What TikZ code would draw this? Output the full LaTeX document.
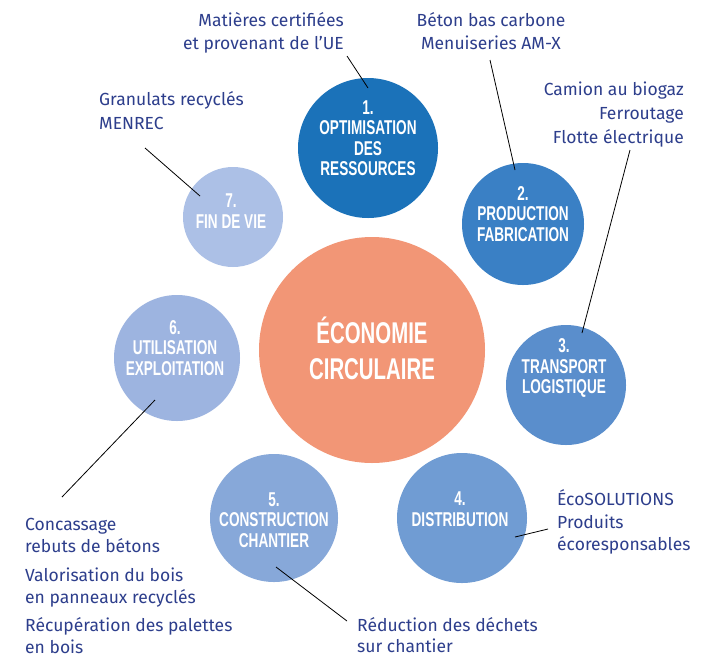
\documentclass[tikz,border=0pt]{standalone}
\usepackage{fontspec}
\setmainfont{Fira Sans}
\newfontfamily\condfont[FakeStretch=0.68]{Liberation Sans}
\definecolor{cone}{RGB}{27,114,185}
\definecolor{ctwo}{RGB}{58,128,197}
\definecolor{cthree}{RGB}{90,142,204}
\definecolor{cfour}{RGB}{112,156,211}
\definecolor{cfive}{RGB}{135,168,217}
\definecolor{csix}{RGB}{157,180,224}
\definecolor{cseven}{RGB}{172,192,230}
\definecolor{corange}{RGB}{242,150,118}
\definecolor{labcol}{RGB}{45,62,140}
\begin{document}
\begin{tikzpicture}[x=1pt,y=-1pt,
  disc/.style={circle,inner sep=0pt,draw=none},
  disctext/.style={text=white,align=center,font=\condfont\bfseries\fontsize{20}{20.5}\selectfont,inner sep=0pt},
  lab/.style={text=labcol,inner sep=0pt,font=\fontsize{17.5}{20}\selectfont},
  conn/.style={draw=black,line width=0.8pt}]
\fill[white] (0,0) rectangle (708,659);
\useasboundingbox (0,0) rectangle (708,659);

% discs
\node[disc,fill=corange,minimum size=226pt] (c0) at (372,350) {};
\node[disc,fill=cone,minimum size=140pt] (c1) at (368,148) {};
\node[disc,fill=ctwo,minimum size=122pt] (c2) at (523,224) {};
\node[disc,fill=cthree,minimum size=120pt] (c3) at (566,385) {};
\node[disc,fill=cfour,minimum size=130pt] (c4) at (462,518) {};
\node[disc,fill=cfive,minimum size=128pt] (c5) at (274,518) {};
\node[disc,fill=csix,minimum size=126pt] (c6) at (177,358) {};
\node[disc,fill=cseven,minimum size=100pt] (c7) at (233,217) {};

% disc texts
\node[disctext,font=\condfont\bfseries\fontsize{30}{36}\selectfont] (t0) at (372,348) {ÉCONOMIE\\CIRCULAIRE};
\node[disctext] (t1) at (368,138) {1.\\OPTIMISATION\\DES\\RESSOURCES};
\node[disctext] (t2) at (523,214) {2.\\PRODUCTION\\FABRICATION};
\node[disctext] (t3) at (564,368) {3.\\TRANSPORT\\LOGISTIQUE};
\node[disctext] (t4) at (460,509) {4.\\DISTRIBUTION};
\node[disctext] (t5) at (274,520) {5.\\CONSTRUCTION\\CHANTIER};
\node[disctext] (t6) at (175,348) {6.\\UTILISATION\\EXPLOITATION};
\node[disctext] (t7) at (231,211) {7.\\FIN DE VIE};

% labels
\node[lab,anchor=base east] (l1a) at (344,26) {Matières certifiées};
\node[lab,anchor=base east] (l1b) at (344,49) {et provenant de l’UE};
\node[lab,anchor=base] (l2a) at (491,26) {Béton bas carbone};
\node[lab,anchor=base] (l2b) at (491,49) {Menuiseries AM-X};
\node[lab,anchor=base east] (l3a) at (684,95) {Camion au biogaz};
\node[lab,anchor=base east] (l3b) at (684,119) {Ferroutage};
\node[lab,anchor=base east] (l3c) at (684,143) {Flotte électrique};
\node[lab,anchor=base west] (l4a) at (557,505) {ÉcoSOLUTIONS};
\node[lab,anchor=base west] (l4b) at (557,528) {Produits};
\node[lab,anchor=base west] (l4c) at (557,550) {écoresponsables};
\node[lab,anchor=base west] (l5a) at (357,631) {Réduction des déchets};
\node[lab,anchor=base west] (l5b) at (357,652) {sur chantier};
\node[lab,anchor=base west] (l6a) at (25,530) {Concassage};
\node[lab,anchor=base west] (l6b) at (25,552) {rebuts de bétons};
\node[lab,anchor=base west] (l6c) at (25,581) {Valorisation du bois};
\node[lab,anchor=base west] (l6d) at (25,603) {en panneaux recyclés};
\node[lab,anchor=base west] (l6e) at (25,631) {Récupération des palettes};
\node[lab,anchor=base west] (l6f) at (25,653) {en bois};
\node[lab,anchor=base west] (l7a) at (99,105) {Granulats recyclés};
\node[lab,anchor=base west] (l7b) at (99,129) {MENREC};

% connector ends
\coordinate (p1s) at (347,56); \coordinate (p1e) at (368,88);
\coordinate (p2s) at (490,60); \coordinate (p2e) at (515,170);
\coordinate (p3s) at (630,150); \coordinate (p3e) at (582,333);
\coordinate (p4s) at (548,529); \coordinate (p4e) at (515,537);
\coordinate (p5s) at (347,621); \coordinate (p5e) at (276,567);
\coordinate (p6s) at (62,497); \coordinate (p6e) at (155,400);
\coordinate (p7s) at (145,148); \coordinate (p7e) at (200,196);

\draw[conn] (p1s) -- (p1e);
\draw[conn] (p2s) -- (p2e);
\draw[conn] (p3s) -- (p3e);
\draw[conn] (p4s) -- (p4e);
\draw[conn] (p5s) -- (p5e);
\draw[conn] (p6s) -- (p6e);
\draw[conn] (p7s) -- (p7e);
\end{tikzpicture}
\end{document}
